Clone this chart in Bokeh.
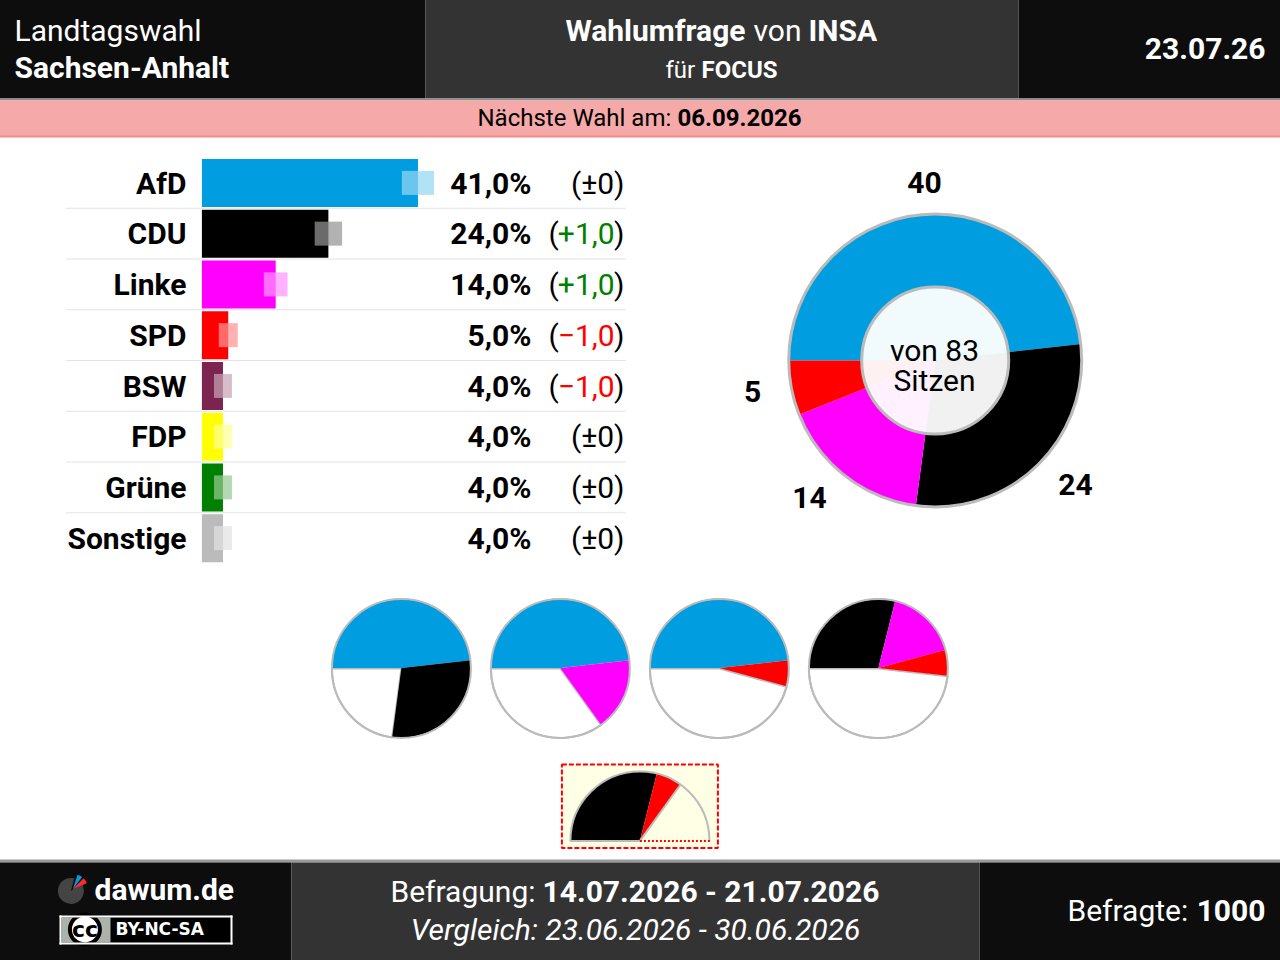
import math
from bokeh.plotting import figure
from bokeh.models import Range1d
from bokeh.core.properties import value
from bokeh.embed import file_html
from bokeh.resources import INLINE

# ---- data ----
parties = ["AfD", "CDU", "Linke", "SPD", "BSW", "FDP", "Grüne", "Sonstige"]
shares = [41.0, 24.0, 14.0, 5.0, 4.0, 4.0, 4.0, 4.0]
margins = [3.05, 2.6, 2.25, 1.8, 1.7, 1.7, 1.7, 1.7]
changes = ["±0", "+1,0", "+1,0", "−1,0", "−1,0", "±0", "±0", "±0"]
party_colors = ["#009ee0", "#000000", "#ff00ff", "#ff0000", "#7b2450", "#ffff00", "#008000", "#bbbbbb"]
seat_parties = ["AfD", "CDU", "Linke", "SPD"]
seats = [40, 24, 14, 5]
seat_colors = ["#009ee0", "#000000", "#ff00ff", "#ff0000"]
seat_total = 83
coalitions = [["AfD", "CDU"], ["AfD", "Linke"], ["AfD", "SPD"], ["CDU", "Linke", "SPD"]]
highlight = ["CDU", "SPD"]

FONT = value("Roboto")
W, H = 1280, 960
PX_PER_PCT = 5.27
ROW0, ROW_H = 183.0, 50.75
GRAY = "#bbbbbb"
DARK = "#0d0d0d"
MID = "#333333"
FS = 30
S = 0.6


def Y(px):
    return H - px


p = figure(width=W + 1, height=H + 1, x_range=Range1d(-1 + S, W + S), y_range=Range1d(-S, H + 1 - S),
           x_axis_type=None, y_axis_type=None, toolbar_location=None,
           output_backend="svg", min_border=0, outline_line_color=None,
           background_fill_color="#ffffff", border_fill_color="#ffffff")
p.styles = {"position": "absolute", "left": "-1px", "top": "-1px"}
p.extra_x_ranges = {"pct": Range1d((-1 + S - 202) / PX_PER_PCT, (W + S - 202) / PX_PER_PCT)}
p.extra_y_ranges = {"rows": Range1d((H + S - ROW0) / ROW_H, (-1 + S - ROW0) / ROW_H)}


def band(x0, x1, y0, y1, color):
    p.quad(left=[x0 + S], right=[x1 + S], top=[Y(y0 + S)], bottom=[Y(y1 + S)], fill_color=color, line_color=None)


def txt(x, y, s, size, color="#000000", bold=False, italic=False, align="left", font=FONT):
    style = "bold" if bold else ("italic" if italic else "normal")
    tx = x + S if align == "right" else x - 1 + S
    p.text(x=[tx], y=[Y(y - 1 + S)], text=[s], text_font=font, text_font_size=f"{size}px",
           text_font_style=style, text_color=color, text_align=align, text_baseline="middle")


# ---- header ----
band(-2, 425, -2, 98, DARK)
band(425, 1018, -2, 98, MID)
band(1018, 1282, -2, 98, DARK)
band(-2, 1282, 98, 100, "#8c8c8c")
band(-2, 1282, 100, 136, "#f6a9a9")
band(-2, 1282, 135, 137, "#f58a8a")
txt(15, 31, "Landtagswahl", FS, "#ffffff")
txt(15, 68, "Sachsen-Anhalt", FS, "#ffffff", bold=True)
txt(566, 31, "Wahlumfrage", FS, "#ffffff", bold=True)
txt(754, 31, "von", FS, "#ffffff")
txt(809, 31, "INSA", FS, "#ffffff", bold=True)
txt(666, 70, "für", 24, "#ffffff")
txt(702, 70, "FOCUS", 24, "#ffffff", bold=True)
txt(1265, 49, "23.07.26", FS, "#ffffff", bold=True, align="right")
txt(478, 118, "Nächste Wahl am:", 24, "#000000")
txt(678, 118, "06.09.2026", 24, "#000000", bold=True)

# ---- bars ----
rows = list(range(len(parties)))
for r in rows[:-1]:
    p.line(x=[66, 626], y=[r + 0.5, r + 0.5], y_range_name="rows", line_color="#e3e3e3", line_width=1)
p.hbar(y=rows, left=[0] * len(rows), right=shares, height=48 / ROW_H, fill_color=party_colors,
       line_color=None, x_range_name="pct", y_range_name="rows")
p.hbar(y=rows, left=shares, right=[s + m for s, m in zip(shares, margins)], height=24 / ROW_H,
       fill_color=party_colors, fill_alpha=0.3, line_color=None, x_range_name="pct", y_range_name="rows")
p.hbar(y=rows, left=[s - m for s, m in zip(shares, margins)], right=shares, height=24 / ROW_H,
       fill_color="#ffffff", fill_alpha=0.42, line_color=None, x_range_name="pct", y_range_name="rows")
for r, name, sh, ch in zip(rows, parties, shares, changes):
    ypx = ROW0 + 0.5 + ROW_H * r
    txt(186, ypx, name, FS, bold=True, align="right")
    txt(531, ypx, f"{sh:.1f}".replace(".", ",") + "%", FS, bold=True, align="right")
    if ch == "±0":
        txt(624, ypx, f"({ch})", FS, align="right")
    else:
        col = "#008000" if ch.startswith("+") else "#ff0000"
        txt(549, ypx, "(", FS)
        txt(614, ypx, ch, FS, col, align="right")
        txt(624, ypx, ")", FS, align="right")

# ---- seat donut ----
def spans(names):
    ang = 180.0
    out = []
    for n in names:
        i = seat_parties.index(n)
        sweep = seats[i] / seat_total * 360
        out.append((ang, ang - sweep, seat_colors[i]))
        ang -= sweep
    return out, ang


CX, CY, RO, RI = 935.3, 360.6, 146.5, 73.5
for a0, a1, col in spans(seat_parties)[0]:
    p.annular_wedge(x=[CX], y=[Y(CY)], inner_radius=[RI], outer_radius=[RO],
                    start_angle=[a0], end_angle=[a1], start_angle_units="deg", end_angle_units="deg",
                    direction="clock", fill_color=col, line_color=None)
    p.wedge(x=[CX], y=[Y(CY)], radius=[RI], start_angle=[a0], end_angle=[a1],
            start_angle_units="deg", end_angle_units="deg", direction="clock",
            fill_color=col, fill_alpha=0.055, line_color=None)
p.circle(x=[CX], y=[Y(CY)], radius=[RO], fill_color=None, line_color=GRAY, line_width=3)
p.circle(x=[CX], y=[Y(CY)], radius=[RI], fill_color=None, line_color=GRAY, line_width=3)
txt(935, 351, "von 83", FS, align="center")
txt(935, 381, "Sitzen", FS, align="center")
for (x, y), n in zip([(925, 183), (1076, 485), (810, 498), (753, 392)], seats):
    txt(x, y, str(n), FS, bold=True, align="center")

# ---- coalition pies ----
for cx, names in zip([401.5, 560.5, 719.5, 878.5], coalitions):
    parts, end = spans(names)
    p.wedge(x=[cx], y=[Y(668.6)], radius=[69.5], start_angle=[end], end_angle=[180 - 360],
            start_angle_units="deg", end_angle_units="deg", direction="clock",
            fill_color="#ffffff", line_color=GRAY, line_width=2)
    for a0, a1, col in parts:
        p.wedge(x=[cx], y=[Y(668.1)], radius=[69.5], start_angle=[a0], end_angle=[a1],
                start_angle_units="deg", end_angle_units="deg", direction="clock",
                fill_color=col, line_color=None)
    p.circle(x=[cx], y=[Y(668.6)], radius=[69.5], fill_color=None, line_color=GRAY, line_width=2)

# ---- highlighted coalition ----
p.quad(left=[562], right=[718], top=[Y(764.5)], bottom=[Y(848)], fill_color="#ffffe6",
       line_color="#ff0000", line_width=2, line_dash="5 2")
parts, end = spans(highlight)
p.wedge(x=[640], y=[Y(841)], radius=[69.5], start_angle=[180], end_angle=[0],
        start_angle_units="deg", end_angle_units="deg", direction="clock",
        fill_color="#ffffe6", line_color=None)
for a0, a1, col in parts:
    p.wedge(x=[640], y=[Y(841)], radius=[69.5], start_angle=[a0], end_angle=[a1],
            start_angle_units="deg", end_angle_units="deg", direction="clock",
            fill_color=col, line_color=None)
p.line(x=[640 + 69.5 * math.cos(math.radians(end)), 640],
       y=[Y(841) + 69.5 * math.sin(math.radians(end)), Y(841)], line_color=GRAY, line_width=2)
p.arc(x=[640], y=[Y(841)], radius=[69.5], start_angle=[0], end_angle=[180],
      start_angle_units="deg", end_angle_units="deg", line_color=GRAY, line_width=2)
p.line(x=[570, 640], y=[Y(841), Y(841)], line_color=GRAY, line_width=2)
p.line(x=[640, 710], y=[Y(841), Y(841)], line_color="#ff0000", line_width=2, line_dash="2 2")

# ---- footer ----
band(-2, 1282, 859, 862, "#999999")
band(-2, 291, 862, 962, DARK)
band(291, 979, 862, 962, MID)
band(979, 1282, 862, 962, DARK)
txt(391, 892, "Befragung:", FS, "#ffffff")
txt(543, 892, "14.07.2026 - 21.07.2026", FS, "#ffffff", bold=True)
txt(636, 930, "Vergleich: 23.06.2026 - 30.06.2026", FS, "#ffffff", italic=True, align="center")
txt(1068, 911, "Befragte:", FS, "#ffffff")
txt(1265, 911, "1000", FS, "#ffffff", bold=True, align="right")

# logo
p.wedge(x=[71], y=[Y(891)], radius=[13], start_angle=[40], end_angle=[75], start_angle_units="deg",
        end_angle_units="deg", direction="clock", fill_color="#444444", line_color=None)
p.wedge(x=[73], y=[Y(889)], radius=[15], start_angle=[52], end_angle=[72], start_angle_units="deg",
        end_angle_units="deg", fill_color="#009ee0", line_color=None)
p.wedge(x=[73], y=[Y(889)], radius=[15], start_angle=[22], end_angle=[45], start_angle_units="deg",
        end_angle_units="deg", fill_color="#ff2a2a", line_color=None)
txt(95, 890, "dawum.de", FS, "#ffffff", bold=True)
# cc badge
band(61, 230, 917, 942, "#000000")
band(61, 110, 917, 942, "#aab2ab")
p.circle(x=[85], y=[Y(929.5)], radius=[15], fill_color="#ffffff", line_color="#000000", line_width=4)
band(59, 232, 915, 917, "#ffffff")
band(59, 232, 942, 944, "#ffffff")
band(59, 61, 915, 944, "#ffffff")
band(230, 232, 915, 944, "#ffffff")
txt(85.5, 930, "cc", 22, "#000000", bold=True, align="center", font=value("DejaVu Sans"))
txt(116, 929.5, "BY-NC-SA", 17, "#ffffff", bold=True, font=value("DejaVu Sans"))

open("out.html", "w").write(file_html(p, INLINE))
